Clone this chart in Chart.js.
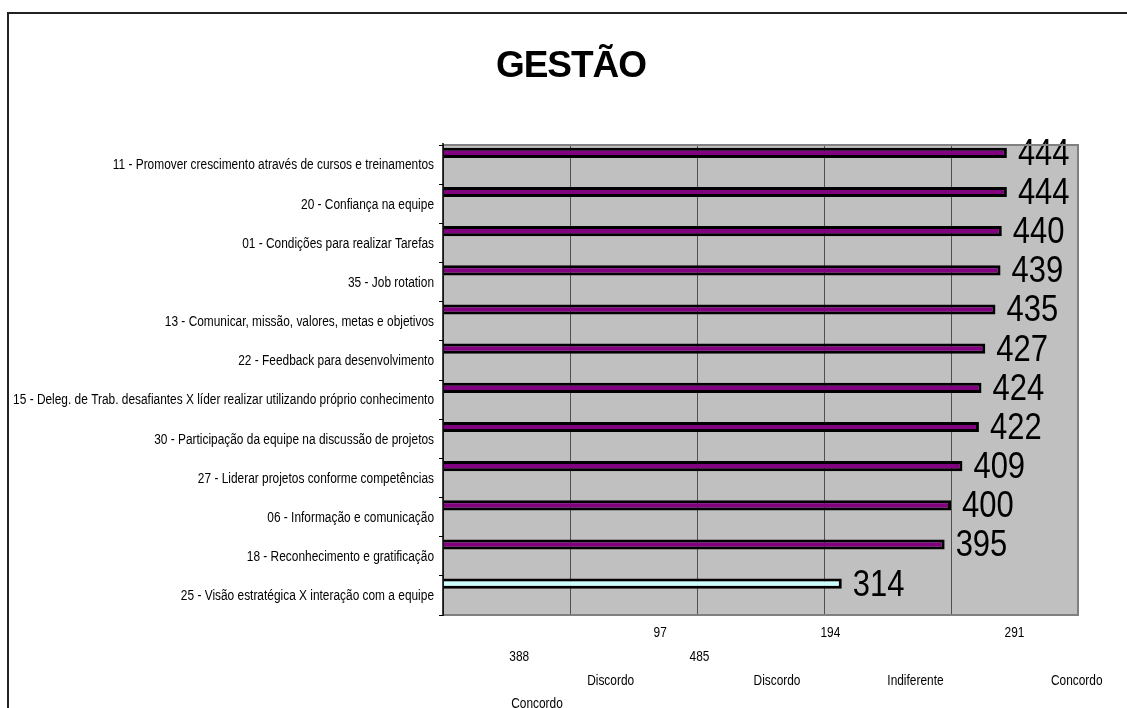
<!DOCTYPE html>
<html>
<head>
<meta charset="utf-8">
<script src="https://cdn.jsdelivr.net/npm/chart.js@4/dist/chart.umd.min.js"></script>
<style>
  html, body { margin: 0; padding: 0; background: #ffffff; }
  #wrap { position: relative; width: 1127px; height: 708px; overflow: hidden; }
  canvas { display: block; }
</style>
</head>
<body>
<div id="wrap"><canvas id="c" width="1127" height="708"></canvas></div>
<script>
const categories = [
  '11 - Promover crescimento através de cursos e treinamentos',
  '20 - Confiança na equipe',
  '01 - Condições para realizar Tarefas',
  '35 - Job rotation',
  '13 - Comunicar, missão, valores, metas e objetivos',
  '22 - Feedback para desenvolvimento',
  '15 - Deleg. de Trab. desafiantes X líder realizar utilizando próprio conhecimento',
  '30 - Participação da equipe na discussão de projetos',
  '27 - Liderar projetos conforme competências',
  '06 - Informação e comunicação',
  '18 - Reconhecimento e gratificação',
  '25 - Visão estratégica X interação com a equipe'
];
const values = [444, 444, 440, 439, 435, 427, 424, 422, 409, 400, 395, 314];
const barColors = ['#800080','#800080','#800080','#800080','#800080','#800080','#800080','#800080','#800080','#800080','#800080','#CCFFFF'];
const titleText = 'GESTÃO';

// x-axis label texts, as they appear in the reference (4 rows)
const xLabelsRow1 = ['97', '194', '291'];
const xLabelsRow2 = ['388', '485'];
const xLabelsRow3 = ['Discordo', 'Discordo', 'Indiferente', 'Concordo'];
const xLabelsRow4 = ['Concordo'];

// layout: horizontal anchor of each label in axis units, and row offsets (px below plot)
const xLabelAnchors = [[171, 305, 450], [60, 202], [132, 263, 372, 499], [74]];
const xRowOffsets = [18, 42, 66, 89];

const FONT = "'Liberation Sans', Arial, sans-serif";
const CONDENSE = 0.85;

function drawCondensed(ctx, text, x, y, align, sx) {
  ctx.save();
  ctx.translate(x, y);
  ctx.scale(sx, 1);
  ctx.textAlign = align;
  ctx.fillText(text, 0, 0);
  ctx.restore();
}

const framePlugin = {
  id: 'frame',
  beforeDraw(chart) {
    const ctx = chart.ctx;
    ctx.save();
    ctx.strokeStyle = '#222';
    ctx.lineWidth = 2;
    ctx.strokeRect(8, 13, 1300, 900);
    const a = chart.chartArea;
    ctx.fillStyle = '#C0C0C0';
    ctx.fillRect(a.left, a.top, a.right - a.left, a.bottom - a.top);
    // title
    ctx.fillStyle = '#000';
    ctx.font = 'bold 37px ' + FONT;
    ctx.textBaseline = 'alphabetic';
    try { ctx.letterSpacing = '-1px'; } catch (e) {}
    ctx.textAlign = 'center';
    ctx.fillText(titleText, 571, 77);
    try { ctx.letterSpacing = '0px'; } catch (e) {}
    ctx.restore();
  },
  afterDraw(chart) {
    const ctx = chart.ctx, a = chart.chartArea;
    ctx.save();
    ctx.strokeStyle = '#808080';
    ctx.lineWidth = 2;
    ctx.beginPath();
    ctx.moveTo(a.left, a.top);
    ctx.lineTo(a.right, a.top);
    ctx.lineTo(a.right, a.bottom);
    ctx.lineTo(a.left, a.bottom);
    ctx.stroke();
    ctx.strokeStyle = '#000';
    ctx.lineWidth = 1.5;
    ctx.beginPath();
    ctx.moveTo(a.left, a.top - 2);
    ctx.lineTo(a.left, a.bottom + 1);
    ctx.stroke();
    ctx.fillStyle = '#000';
    ctx.font = '14px ' + FONT;
    ctx.textBaseline = 'middle';
    // y category labels
    const ys = chart.scales.y;
    categories.forEach((t, i) => {
      drawCondensed(ctx, t, a.left - 9, ys.getPixelForValue(i) + 1, 'right', CONDENSE);
    });
    // x labels
    const xs = chart.scales.x;
    const rows = [xLabelsRow1, xLabelsRow2, xLabelsRow3, xLabelsRow4];
    rows.forEach((row, r) => {
      row.forEach((t, i) => {
        drawCondensed(ctx, t, xs.getPixelForValue(xLabelAnchors[r][i]), a.bottom + xRowOffsets[r], 'center', CONDENSE);
      });
    });
    ctx.restore();
  }
};

const valueLabels = {
  id: 'valueLabels',
  afterDatasetsDraw(chart) {
    const ctx = chart.ctx;
    const meta = chart.getDatasetMeta(0);
    ctx.save();
    ctx.fillStyle = '#000';
    ctx.font = '36px ' + FONT;
    ctx.textBaseline = 'middle';
    meta.data.forEach((bar, i) => {
      drawCondensed(ctx, String(values[i]), bar.x + 11, bar.y + 2, 'left', 0.86);
    });
    ctx.restore();
  }
};

new Chart(document.getElementById('c'), {
  type: 'bar',
  data: {
    labels: categories,
    datasets: [
      {
        data: values,
        backgroundColor: barColors,
        borderColor: '#000',
        borderWidth: 3,
        borderSkipped: 'start',
        categoryPercentage: 1.2,
        barPercentage: 0.43
      },
      {
        data: categories.map(() => null),
        categoryPercentage: 1.2,
        barPercentage: 0.43
      }
    ]
  },
  options: {
    indexAxis: 'y',
    responsive: false,
    animation: false,
    layout: { padding: { left: 0, right: 49, top: 145, bottom: 0 } },
    plugins: {
      legend: { display: false },
      tooltip: { enabled: false },
      title: { display: false }
    },
    scales: {
      x: {
        min: 0,
        max: 500,
        ticks: { display: false, stepSize: 100 },
        grid: { color: '#505050', lineWidth: 1, drawTicks: false },
        border: { display: false },
        afterFit(scale) { scale.height = 93; }
      },
      y: {
        ticks: { color: 'rgba(0,0,0,0)', padding: 5, font: { family: FONT, size: 12 } },
        grid: { display: true, drawOnChartArea: false, drawTicks: true, tickLength: 4, color: '#000', offset: true },
        border: { display: false },
        afterFit(scale) { scale.width = 443; }
      }
    }
  },
  plugins: [framePlugin, valueLabels]
});
</script>
</body>
</html>
